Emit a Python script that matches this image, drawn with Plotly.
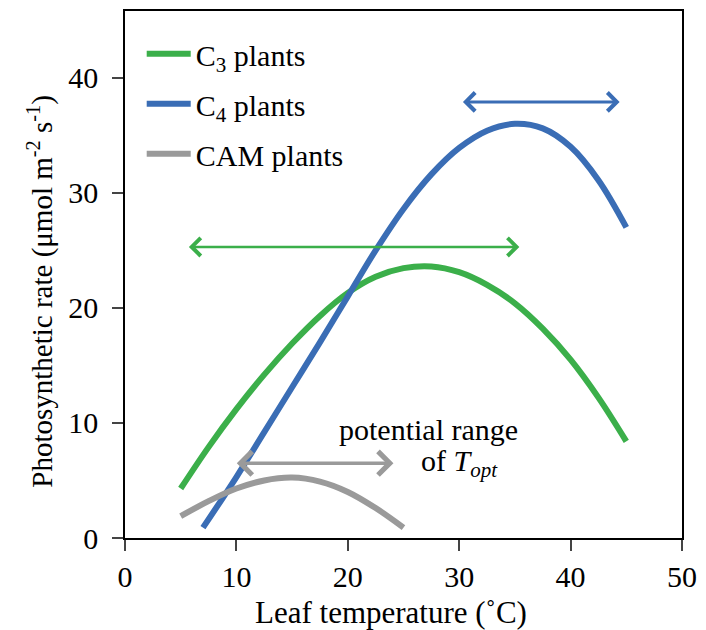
import plotly.graph_objects as go

# ---- data ----
temp_c3 = [5, 7.5, 10, 12.5, 15, 17.5, 20, 22.5, 25, 27.5, 30, 32.5, 35, 37.5, 40, 42.5, 45]
rate_c3 = [4.3, 7.9, 11.2, 14.2, 16.9, 19.3, 21.3, 22.7, 23.45, 23.6, 23.1, 22.0, 20.4, 18.2, 15.5, 12.2, 8.4]

temp_c4 = [7, 10, 12.5, 15, 17.5, 20, 22.5, 25, 27.5, 30, 32.5, 35, 37.5, 40, 42.5, 45]
rate_c4 = [0.9, 5.3, 9.2, 13.1, 17.0, 21.0, 25.0, 28.6, 31.6, 33.9, 35.4, 36.0, 35.6, 34.0, 31.1, 27.0]

temp_cam = [5, 7.5, 10, 12.5, 15, 17.5, 20, 22.5, 25]
rate_cam = [1.9, 3.2, 4.3, 5.0, 5.25, 4.9, 4.0, 2.6, 0.9]

series_names = ["C<sub>3</sub> plants", "C<sub>4</sub> plants", "CAM plants"]

# potential range of T_opt: (start, end, level)
topt_c3 = [5.6, 35.4, 25.3]
topt_c4 = [30.2, 44.4, 37.9]
topt_cam = [9.9, 24.1, 6.5]

x_ticks = [0, 10, 20, 30, 40, 50]
y_ticks = [0, 10, 20, 30, 40]

GREEN = "#3BAF4A"
BLUE = "#3A6DB5"
GRAY = "#9A9A9A"
FONT = "Liberation Serif, Times New Roman, serif"
FS = 30

fig = go.Figure()
for tx, ry, nm, col in [(temp_c3, rate_c3, series_names[0], GREEN),
                        (temp_c4, rate_c4, series_names[1], BLUE),
                        (temp_cam, rate_cam, series_names[2], GRAY)]:
    fig.add_trace(go.Scatter(x=tx, y=ry, mode="lines", name=nm, legendgroup=nm,
                             line=dict(color=col, width=6, shape="spline", smoothing=1.0)))

for rng, col, w, sz in [(topt_c3, GREEN, 2.5, 1.4), (topt_c4, BLUE, 3, 1.2), (topt_cam, GRAY, 3.5, 1.3)]:
    fig.add_annotation(x=rng[1], y=rng[2], ax=rng[0], ay=rng[2], xref="x", yref="y",
                       axref="x", ayref="y", text="", showarrow=True, arrowhead=4,
                       arrowside="end+start", arrowwidth=w, arrowsize=sz,
                       arrowcolor=col, standoff=0, startstandoff=0)

fig.add_annotation(x=27.2, y=9.4, xref="x", yref="y", text="potential range",
                   showarrow=False, font=dict(family=FONT, size=FS, color="black"))
fig.add_annotation(x=33.7, y=6.5, xref="x", yref="y", text="of <i>T</i><sub><i>opt</i></sub>",
                   showarrow=False, xanchor="right", font=dict(family=FONT, size=FS, color="black"))

# axis titles placed as text to match the reference positions
fig.add_annotation(x=-0.152, y=0.468, xref="paper", yref="paper", textangle=-90,
                   xanchor="center", yanchor="middle",
                   text="Photosynthetic rate (μmol m<sup>-2</sup> s<sup>-1</sup>)",
                   showarrow=False, font=dict(family=FONT, size=29, color="black"))
fig.add_annotation(x=0.478, y=-0.141, xref="paper", yref="paper",
                   xanchor="center", yanchor="middle",
                   text="Leaf temperature (˚C)",
                   showarrow=False, font=dict(family=FONT, size=31, color="black"))

fig.update_layout(
    width=706, height=630,
    margin=dict(l=125, r=20, t=9, b=92),
    plot_bgcolor="white", paper_bgcolor="white",
    font=dict(family=FONT, size=FS, color="black"),
    showlegend=True,
    legend=dict(x=0.03, y=0.968, xanchor="left", yanchor="top", itemwidth=44,
                font=dict(family=FONT, size=FS, color="black"),
                traceorder="grouped", tracegroupgap=8, bgcolor="rgba(0,0,0,0)"),
)
fig.update_xaxes(range=[0, 50], tickvals=x_ticks, ticks="outside", ticklen=11, tickwidth=1.5,
                 showline=True, linecolor="black", linewidth=1.5, mirror=True,
                 showgrid=False, zeroline=False, tickfont=dict(family=FONT, size=FS))
fig.update_yaxes(range=[0, 45.8], tickvals=y_ticks, ticks="outside", ticklen=11, tickwidth=1.5,
                 showline=True, linecolor="black", linewidth=1.5, mirror=True,
                 showgrid=False, zeroline=False, tickfont=dict(family=FONT, size=FS),
                 ticklabelstandoff=8)

fig.write_html("out.html")
